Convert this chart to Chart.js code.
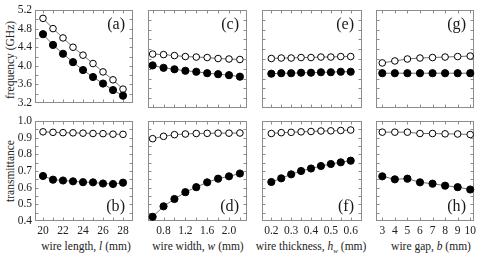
<!DOCTYPE html>
<html><head><meta charset="utf-8">
<script src="https://cdn.jsdelivr.net/npm/chart.js@4.4.1/dist/chart.umd.min.js"></script>
<style>
html,body{margin:0;padding:0;background:#fff;}
#wrap{position:relative;width:480px;height:253px;overflow:hidden;font-family:'Liberation Serif',serif;color:#222;}
#wrap canvas{position:absolute;}
.xt{position:absolute;top:240px;font-size:11.5px;white-space:nowrap;transform:translateX(-50%);line-height:13px;font-family:'Liberation Serif',serif;}
.xt sub{font-size:7px;vertical-align:-3px;line-height:0;}
.yt{position:absolute;font-size:11.5px;white-space:nowrap;transform:translate(-50%,-50%) rotate(-90deg);line-height:13px;font-family:'Liberation Serif',serif;}
</style></head><body>
<div id="wrap">
  <div class="yt" style="left:10px;top:59.5px">frequency (GHz)</div>
  <div class="yt" style="left:10px;top:171px">transmittance</div>
  <div class="xt" style="left:86px">wire length, <i>l</i> (mm)</div>
  <div class="xt" style="left:198px">wire width, <i>w</i> (mm)</div>
  <div class="xt" style="left:311px">wire thickness, <i>h</i><sub><i>w</i></sub> (mm)</div>
  <div class="xt" style="left:431px">wire gap, <i>b</i> (mm)</div>
</div>
<script>
// ---- data ----
const lengthL = [20, 21, 22, 23, 24, 25, 26, 27, 28];
const widthW = [0.6, 0.8, 1.0, 1.2, 1.4, 1.6, 1.8, 2.0, 2.2];
const thickH = [0.20, 0.25, 0.30, 0.35, 0.40, 0.45, 0.50, 0.55, 0.60];
const gapB = [3, 4, 5, 6, 7, 8, 9, 10];

const freqOpenL = [5.02, 4.80, 4.60, 4.40, 4.23, 4.05, 3.87, 3.70, 3.50];
const freqFilledL = [4.68, 4.45, 4.26, 4.08, 3.91, 3.76, 3.62, 3.48, 3.36];
const transOpenL = [0.935, 0.932, 0.930, 0.929, 0.927, 0.925, 0.924, 0.921, 0.920];
const transFilledL = [0.670, 0.648, 0.643, 0.638, 0.633, 0.632, 0.625, 0.622, 0.630];

const freqOpenW = [4.30, 4.29, 4.27, 4.25, 4.24, 4.23, 4.21, 4.20, 4.19];
const freqFilledW = [4.07, 4.02, 3.99, 3.96, 3.94, 3.91, 3.89, 3.87, 3.84];
const transOpenW = [0.894, 0.908, 0.918, 0.922, 0.925, 0.926, 0.927, 0.927, 0.928];
const transFilledW = [0.425, 0.488, 0.532, 0.573, 0.603, 0.632, 0.654, 0.668, 0.685];

const freqOpenH = [4.21, 4.22, 4.22, 4.23, 4.23, 4.24, 4.24, 4.25, 4.25];
const freqFilledH = [3.90, 3.91, 3.91, 3.92, 3.92, 3.93, 3.93, 3.94, 3.94];
const transOpenH = [0.925, 0.930, 0.932, 0.935, 0.937, 0.940, 0.941, 0.943, 0.946];
const transFilledH = [0.634, 0.656, 0.680, 0.700, 0.715, 0.730, 0.742, 0.752, 0.762];

const freqOpenB = [4.12, 4.16, 4.20, 4.22, 4.23, 4.24, 4.25, 4.26];
const freqFilledB = [3.91, 3.91, 3.91, 3.91, 3.91, 3.91, 3.91, 3.91];
const transOpenB = [0.933, 0.933, 0.933, 0.925, 0.925, 0.923, 0.922, 0.919];
const transFilledB = [0.668, 0.650, 0.654, 0.632, 0.624, 0.612, 0.603, 0.589];

// ---- tick labels ----
const yTicksFreq = ['3.2', '3.6', '4.0', '4.4', '4.8', '5.2'];
const yTicksTrans = ['0.4', '0.5', '0.6', '0.7', '0.8', '0.9', '1.0'];
const xTicksL = ['20', '22', '24', '26', '28'];
const xTicksW = ['0.8', '1.2', '1.6', '2.0'];
const xTicksH = ['0.2', '0.3', '0.4', '0.5', '0.6'];
const xTicksB = ['3', '4', '5', '6', '7', '8', '9', '10'];
const panelLetters = ['(a)', '(b)', '(c)', '(d)', '(e)', '(f)', '(g)', '(h)'];

// ---- layout ----
const FONT = "'Liberation Serif', serif";
const colX = [[35, 133], [148, 247], [262, 362], [376, 474]];
const rowY = [[10, 109], [121, 221]];
const xCfg = [
  {x: lengthL, min: 19.2, max: 29, minor: 1, labels: xTicksL},
  {x: widthW, min: 0.515, max: 2.33, minor: 0.2, labels: xTicksW},
  {x: thickH, min: 0.153, max: 0.657, minor: 0.05, labels: xTicksH},
  {x: gapB, min: 2.5, max: 10.3, minor: 1, labels: xTicksB}
];
const yCfg = [
  {min: 3.2, max: 5.2, minor: 0.2, labels: yTicksFreq},
  {min: 0.4, max: 1.0, minor: 0.05, labels: yTicksTrans}
];
const series = [
  [[freqOpenL, freqFilledL], [transOpenL, transFilledL]],
  [[freqOpenW, freqFilledW], [transOpenW, transFilledW]],
  [[freqOpenH, freqFilledH], [transOpenH, transFilledH]],
  [[freqOpenB, freqFilledB], [transOpenB, transFilledB]]
];

function labelFor(v, labels) {
  for (const s of labels) {
    if (Math.abs(parseFloat(s) - v) < 1e-6) return s;
  }
  return '';
}

const framePlugin = {
  id: 'frame',
  beforeDatasetsDraw(chart, args, opts) {
    const {ctx, chartArea: a, scales: {x, y}} = chart;
    ctx.save();
    ctx.strokeStyle = '#8c8c8c';
    ctx.lineWidth = 1;
    const L = Math.round(a.left) + 0.5, R = Math.round(a.right) - 0.5;
    const T = Math.round(a.top) + 0.5, B = Math.round(a.bottom) - 0.5;
    ctx.strokeRect(L, T, R - L, B - T);
    const tk = 3;
    ctx.beginPath();
    x.ticks.forEach(t => {
      const px = Math.round(x.getPixelForValue(t.value)) + 0.5;
      if (px <= L + 1 || px >= R - 1) return;
      ctx.moveTo(px, B); ctx.lineTo(px, B - tk);
      ctx.moveTo(px, T); ctx.lineTo(px, T + tk);
    });
    y.ticks.forEach(t => {
      const py = Math.round(y.getPixelForValue(t.value)) + 0.5;
      if (py <= T + 1 || py >= B - 1) return;
      ctx.moveTo(L, py); ctx.lineTo(L + tk, py);
      ctx.moveTo(R, py); ctx.lineTo(R - tk, py);
    });
    ctx.stroke();
    // panel letter: 11.5px serif face, enlarged by a transform
    const sc = 1.4;
    ctx.translate(a.right - 8, opts.top ? a.top + 15 : a.bottom - 14);
    ctx.scale(sc, sc);
    ctx.fillStyle = '#1a1a1a';
    ctx.font = '11.5px ' + FONT;
    ctx.textAlign = 'right';
    ctx.textBaseline = 'middle';
    ctx.fillText(opts.letter, 0, 0);
    ctx.restore();
  }
};

const wrap = document.getElementById('wrap');
const PADL = 40, PADT = 10, PADR = 6;

function build() {
  for (let c = 0; c < 4; c++) {
    for (let r = 0; r < 2; r++) {
      const xc = xCfg[c], yc = yCfg[r];
      const [l, rt] = colX[c], [t, b] = rowY[r];
      const PADB = r === 1 ? 30 : 4;
      const w = (rt - l) + PADL + PADR, h = (b - t) + PADT + PADB;
      const cv = document.createElement('canvas');
      cv.width = w; cv.height = h;
      cv.style.left = (l - PADL) + 'px'; cv.style.top = (t - PADT) + 'px';
      cv.style.width = w + 'px'; cv.style.height = h + 'px';
      wrap.appendChild(cv);
      const [openY, filledY] = series[c][r];
      const mk = (ys) => xc.x.map((xv, i) => ({x: xv, y: ys[i]}));
      new Chart(cv, {
        type: 'line',
        data: {
          datasets: [
            {data: mk(filledY), borderColor: '#6e6e6e', borderWidth: 1, pointRadius: 3.6,
             pointBackgroundColor: '#000', pointBorderColor: '#000', pointBorderWidth: 1, clip: false},
            {data: mk(openY), borderColor: '#6e6e6e', borderWidth: 1, pointRadius: 3.3,
             pointBackgroundColor: '#fff', pointBorderColor: '#000', pointBorderWidth: 1, clip: false}
          ]
        },
        options: {
          responsive: false, animation: false, devicePixelRatio: 1,
          layout: {padding: {left: 0, top: PADT, right: PADR, bottom: 0}},
          plugins: {legend: {display: false}, tooltip: {enabled: false},
                    frame: {letter: panelLetters[c * 2 + r], top: r === 0}},
          events: [],
          scales: {
            x: {type: 'linear', min: xc.min, max: xc.max,
                afterFit: s => { s.height = PADB; },
                grid: {display: false, drawTicks: false}, border: {display: false},
                ticks: {display: r === 1, stepSize: xc.minor, includeBounds: false, autoSkip: false,
                        maxRotation: 0, minRotation: 0, padding: 3, color: '#222',
                        font: {family: FONT, size: 11.5},
                        callback: v => labelFor(v, xc.labels)}},
            y: {type: 'linear', min: yc.min, max: yc.max,
                afterFit: s => { s.width = PADL; },
                grid: {display: false, drawTicks: false}, border: {display: false},
                ticks: {display: c === 0, stepSize: yc.minor, includeBounds: false, autoSkip: false,
                        padding: 3, color: '#222', font: {family: FONT, size: 11.5},
                        callback: v => labelFor(v, yc.labels)}}
          }
        },
        plugins: [framePlugin]
      });
    }
  }
}

Chart.defaults.font.family = FONT;
Chart.defaults.font.size = 11.5;
build();
</script>
</body></html>
